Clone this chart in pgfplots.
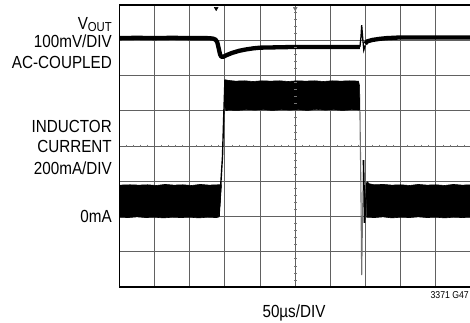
\documentclass[border=0pt]{standalone}
\usepackage{pgfplots}
\pgfplotsset{compat=1.18}
\usepackage{fontspec}
\setmainfont{Liberation Sans}[FakeStretch=0.87]
\begin{document}
\begin{tikzpicture}[x=1pt,y=1pt]
\useasboundingbox (0,0) rectangle (470,322);
\begin{axis}[at={(119.5pt,35pt)}, anchor=south west, scale only axis,
  width=351.5pt, height=282pt, xmin=0, xmax=10, ymin=0, ymax=8,
  xtick={0,1,...,10}, ytick={0,1,...,8}, xticklabels={}, yticklabels={},
  major tick length=0pt, tick style={draw=none},
  grid=major, grid style={black!62, line width=1pt},
  axis line style={line width=1.8pt, black}]
% graticule minor ticks
\addplot[only marks, mark=|, mark size=1.3pt, black!55, mark options={line width=0.7pt}] coordinates {
(0.2,4)(0.4,4)(0.6,4)(0.8,4)(1.2,4)(1.4,4)(1.6,4)(1.8,4)(2.2,4)(2.4,4)(2.6,4)(2.8,4)
(3.2,4)(3.4,4)(3.6,4)(3.8,4)(4.2,4)(4.4,4)(4.6,4)(4.8,4)(5.2,4)(5.4,4)(5.6,4)(5.8,4)
(6.2,4)(6.4,4)(6.6,4)(6.8,4)(7.2,4)(7.4,4)(7.6,4)(7.8,4)(8.2,4)(8.4,4)(8.6,4)(8.8,4)
(9.2,4)(9.4,4)(9.6,4)(9.8,4)};
\addplot[only marks, mark=-, mark size=1.3pt, black!55, mark options={line width=0.7pt}] coordinates {
(5,0.2)(5,0.4)(5,0.6)(5,0.8)(5,1.2)(5,1.4)(5,1.6)(5,1.8)(5,2.2)(5,2.4)(5,2.6)(5,2.8)
(5,3.2)(5,3.4)(5,3.6)(5,3.8)(5,4.2)(5,4.4)(5,4.6)(5,4.8)(5,5.2)(5,5.4)(5,5.6)(5,5.8)
(5,6.2)(5,6.4)(5,6.6)(5,6.8)(5,7.2)(5,7.4)(5,7.6)(5,7.8)};
% trigger markers
\addplot[only marks, mark=triangle*, mark size=2.2pt, black, mark options={rotate=180}] coordinates {(2.75,7.9)};
\addplot[only marks, mark=triangle*, mark size=2.2pt, black!55, mark options={rotate=180}] coordinates {(5.0,7.9)};
% VOUT trace
\addplot[black, line width=4.3pt, line join=round] coordinates {
(0,7.06)(0.5,7.07)(1,7.06)(1.5,7.07)(2,7.06)(2.5,7.06)(2.65,7.05)(2.73,7.02)(2.78,6.95)
(2.82,6.78)(2.86,6.6)(2.9,6.53)(2.95,6.53)(3.05,6.58)(3.2,6.64)(3.4,6.7)(3.6,6.74)
(3.8,6.77)(4.0,6.79)(4.5,6.80)(5,6.81)(5.5,6.81)(6,6.81)(6.5,6.81)(6.84,6.81)};
\addplot[black, line width=1.3pt] coordinates {
(6.84,6.81)(6.87,7.1)(6.89,7.43)(6.92,7.05)(6.95,6.72)(6.99,6.85)};
\addplot[black, line width=4.3pt, line join=round] coordinates {
(6.99,6.9)(7.05,6.97)(7.2,7.01)(7.4,7.04)(7.6,7.06)(8.0,7.08)(8.5,7.08)(9,7.08)(9.5,7.08)(10,7.08)};
% inductor current bands
\addplot[draw=black, fill=black, line width=0.6pt] coordinates {
(0,1.98)(0.25,1.97)(0.5,1.99)(0.75,1.97)(1.0,1.98)(1.25,1.96)(1.5,1.98)(1.75,1.97)
(2.0,1.98)(2.25,1.96)(2.5,1.98)(2.75,1.97)(2.81,1.98)(2.86,2.3)(2.9,2.9)(2.8,2.90)
(2.55,2.89)(2.3,2.91)(2.05,2.88)(1.8,2.90)(1.55,2.89)(1.3,2.91)(1.05,2.88)(0.8,2.90)
(0.55,2.89)(0.3,2.90)(0,2.89)} -- cycle;
\addplot[black, line width=1.4pt] coordinates {
(2.83,1.98)(2.88,2.9)(2.93,3.7)(2.97,5.0)(3.0,5.87)};
\addplot[draw=black, fill=black, line width=0.6pt] coordinates {
(3.0,5.88)(3.1,5.86)(3.3,5.84)(3.55,5.85)(3.8,5.83)(4.05,5.85)(4.3,5.84)(4.55,5.85)
(4.8,5.83)(5.05,5.85)(5.3,5.84)(5.55,5.85)(5.8,5.83)(6.05,5.85)(6.3,5.84)(6.55,5.85)
(6.8,5.84)(6.83,5.7)(6.84,5.02)(6.6,5.03)(6.35,5.01)(6.1,5.03)(5.85,5.02)(5.6,5.04)
(5.35,5.01)(5.1,5.03)(4.85,5.02)(4.6,5.03)(4.35,5.01)(4.1,5.03)(3.85,5.02)(3.6,5.03)
(3.35,5.01)(3.1,5.02)(3.03,5.0)(3.0,5.1)} -- cycle;
\addplot[black!55, line width=1.1pt] coordinates {
(6.84,5.0)(6.87,2.6)(6.89,0.34)(6.91,1.8)(6.94,3.3)};
\addplot[black, line width=1.6pt] coordinates {
(6.94,3.6)(6.96,2.6)(6.97,1.82)(7.0,2.3)(7.04,2.97)};
\addplot[draw=black, fill=black, line width=0.6pt] coordinates {
(7.03,1.98)(7.25,1.97)(7.5,1.99)(7.75,1.96)(8.0,1.98)(8.25,1.97)(8.5,1.99)(8.75,1.97)
(9.0,1.98)(9.25,1.96)(9.5,1.98)(9.75,1.97)(10,1.98)(10,2.90)(9.75,2.89)(9.5,2.91)
(9.25,2.88)(9.0,2.90)(8.75,2.89)(8.5,2.91)(8.25,2.88)(8.0,2.90)(7.75,2.89)(7.5,2.91)
(7.25,2.90)(7.1,2.93)(7.05,2.98)(7.03,2.5)} -- cycle;
\end{axis}
\begin{scope}[every node/.style={inner sep=0pt, font=\fontsize{17.5}{20}\selectfont}]
\node[anchor=base east] at (112,292) {V\raisebox{-1.5pt}{\fontsize{13}{13}\selectfont OUT}};
\node[anchor=base east] at (112,275) {100mV/DIV};
\node[anchor=base east] at (112,254) {AC-COUPLED};
\node[anchor=base east] at (112,190) {INDUCTOR};
\node[anchor=base east] at (112,170) {CURRENT};
\node[anchor=base east] at (112,148) {200mA/DIV};
\node[anchor=base east] at (112,100) {0mA};
\node[anchor=base] at (294,5) {50µs/DIV};
\node[anchor=base east, font=\fontsize{10}{12}\selectfont] at (469,24) {3371 G47};
\end{scope}
\end{tikzpicture}
\end{document}
